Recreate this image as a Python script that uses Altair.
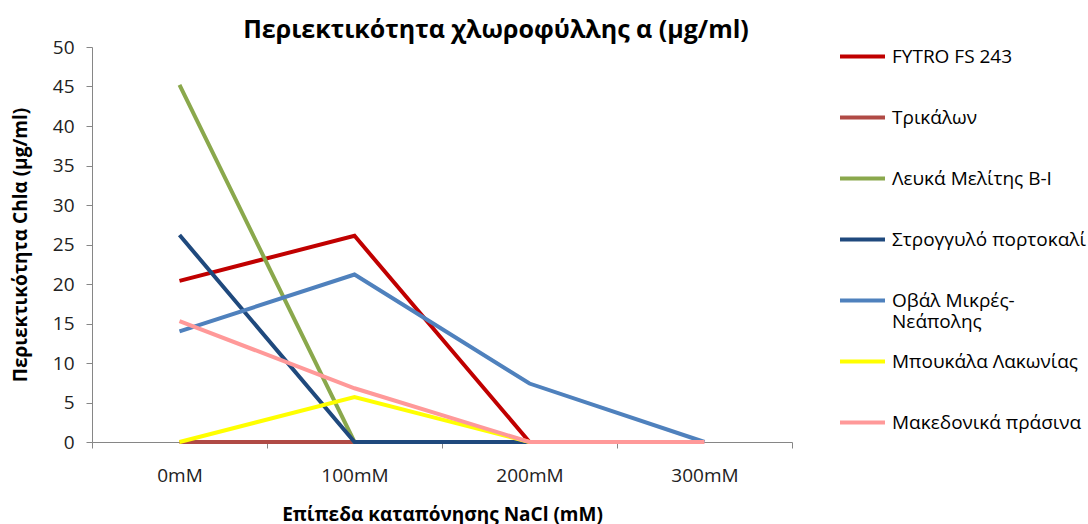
import altair as alt
import pandas as pd

levels = ["0mM", "100mM", "200mM", "300mM"]
series = [
    "FYTRO FS 243",
    "Τρικάλων",
    "Λευκά Μελίτης Β-Ι",
    "Στρογγυλό πορτοκαλί",
    "Οβάλ Μικρές-Νεάπολης",
    "Μπουκάλα Λακωνίας",
    "Μακεδονικά πράσινα",
]
colors = ["#C00000", "#B04A45", "#8AA84C", "#1F497D", "#4F81BD", "#FFFF00", "#FF9999"]

fytro = [20.4, 26.1, 0.0, None]
trikalon = [0.0, 0.0, 0.0, None]
lefka = [45.2, 0.0, 0.0, None]
strogylo = [26.2, 0.0, 0.0, None]
oval = [14.0, 21.2, 7.4, 0.0]
boukala = [0.0, 5.7, 0.0, None]
makedonika = [15.3, 6.8, 0.0, 0.0]

values = [fytro, trikalon, lefka, strogylo, oval, boukala, makedonika]

rows = []
for si, (name, vals) in enumerate(zip(series, values)):
    for li, (lvl, v) in enumerate(zip(levels, vals)):
        if v is not None:
            rows.append({"series": name, "level": lvl, "value": v, "order": si})
df = pd.DataFrame(rows)

FONT = "Open Sans"

chart = alt.Chart(df).mark_line(strokeWidth=4, strokeCap="butt").encode(
    x=alt.X(
        "level:N",
        sort=levels,
        bandPosition=0.5,
        scale=alt.Scale(type="band", domain=levels, paddingInner=0, paddingOuter=0),
        axis=alt.Axis(
            title="Επίπεδα καταπόνησης NaCl (mM)",
            labelAngle=0,
            tickBand="extent",
            labelPadding=18,
            titlePadding=20,
        ),
    ),
    y=alt.Y(
        "value:Q",
        scale=alt.Scale(domain=[0, 50], nice=False),
        axis=alt.Axis(
            title="Περιεκτικότητα Chlα (μg/ml)",
            values=list(range(0, 51, 5)),
            grid=False,
            labelPadding=12,
            titlePadding=22,
        ),
    ),
    color=alt.Color(
        "series:N",
        scale=alt.Scale(domain=series, range=colors),
        legend=alt.Legend(
            title=None,
            orient="none",
            legendX=746,
            legendY=-15,
            symbolType="stroke",
            symbolSize=2025,
            symbolStrokeWidth=4,
            rowPadding=5,
            labelFontSize=19,
            labelFont=FONT,
            labelColor="#000000",
            labelOffset=5,
            labelLimit=300,
            labelExpr="datum.label == 'Οβάλ Μικρές-Νεάπολης' ? ['Οβάλ Μικρές-', 'Νεάπολης'] : [datum.label, ' ']",
        ),
    ),
    order=alt.Order("order:Q"),
    detail="series:N",
).properties(
    width=700,
    height=395,
    title=alt.TitleParams(
        "Περιεκτικότητα χλωροφύλλης α (μg/ml)",
        fontSize=25,
        font=FONT,
        fontWeight="bold",
        color="#000000",
        anchor="middle",
        offset=7,
        dx=54,
        dy=18,
    ),
    autosize=alt.AutoSizeParams(type="none"),
    padding={"left": 92, "top": 47, "right": 296, "bottom": 82},
).configure_view(stroke=None).configure_axis(
    domainColor="#868686",
    tickColor="#868686",
    tickSize=6,
    labelFont=FONT,
    labelFontSize=19,
    labelColor="#222222",
    titleFont=FONT,
    titleFontSize=19,
    titleFontWeight="bold",
    titleColor="#000000",
)

chart.save("out.html", embed_options={"renderer": "svg", "actions": False})
